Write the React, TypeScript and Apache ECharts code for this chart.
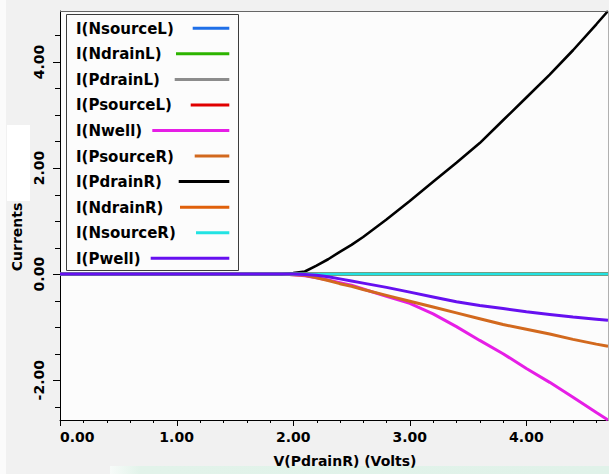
import React, { useEffect, useRef } from "react";
import * as echarts from "echarts";

// V(PdrainR) sweep points (Volts)
const voltage = [0, 0.5, 1.0, 1.5, 1.9, 2.0, 2.1, 2.2, 2.3, 2.4, 2.5, 2.6, 2.8, 3.0, 3.2, 3.4, 3.6, 3.8, 4.0, 4.2, 4.4, 4.6, 4.7];

const iNsourceL = [0, 0, 0, 0, 0, 0, 0, 0, 0, 0, 0, 0, 0, 0, 0, 0, 0, 0, 0, 0, 0, 0, 0];
const iNdrainL = [0, 0, 0, 0, 0, 0, 0, 0, 0, 0, 0, 0, 0, 0, 0, 0, 0, 0, 0, 0, 0, 0, 0];
const iPdrainL = [0, 0, 0, 0, 0, 0, 0, 0, 0, 0, 0, 0, 0, 0, 0, 0, 0, 0, 0, 0, 0, 0, 0];
const iPsourceL = [0, 0, 0, 0, 0, 0, 0, 0, 0, 0, 0, 0, 0, 0, 0, 0, 0, 0, 0, 0, 0, 0, 0];
const iNwell = [0, 0, 0, 0, 0, -0.01, -0.03, -0.07, -0.11, -0.16, -0.21, -0.28, -0.42, -0.55, -0.75, -0.99, -1.25, -1.5, -1.78, -2.04, -2.32, -2.61, -2.75];
const iPsourceR = [0, 0, 0, 0, 0, -0.01, -0.02, -0.07, -0.12, -0.18, -0.23, -0.29, -0.4, -0.51, -0.62, -0.73, -0.84, -0.95, -1.04, -1.13, -1.23, -1.32, -1.36];
const iPdrainR = [0, 0, 0, 0, 0, 0.02, 0.05, 0.16, 0.28, 0.42, 0.55, 0.7, 1.03, 1.38, 1.74, 2.1, 2.47, 2.9, 3.33, 3.76, 4.22, 4.71, 4.96];
const iNdrainR = [0, 0, 0, 0, 0, 0, 0, 0, 0, 0, 0, 0, 0, 0, 0, 0, 0, 0, 0, 0, 0, 0, 0];
const iNsourceR = [0, 0, 0, 0, 0, 0, 0, 0, 0, 0, 0, 0, 0, 0, 0, 0, 0, 0, 0, 0, 0, 0, 0];
const iPwell = [0, 0, 0, 0, 0, 0, -0.005, -0.02, -0.05, -0.09, -0.13, -0.17, -0.25, -0.34, -0.43, -0.52, -0.59, -0.65, -0.71, -0.76, -0.81, -0.85, -0.87];

const seriesNames = ["I(NsourceL)", "I(NdrainL)", "I(PdrainL)", "I(PsourceL)", "I(Nwell)", "I(PsourceR)", "I(PdrainR)", "I(NdrainR)", "I(NsourceR)", "I(Pwell)"];
const seriesValues = [iNsourceL, iNdrainL, iPdrainL, iPsourceL, iNwell, iPsourceR, iPdrainR, iNdrainR, iNsourceR, iPwell];
const seriesColors = ["#1f6fe8", "#2db400", "#8c8c8c", "#e00000", "#e61ee6", "#d2691e", "#000000", "#e0600a", "#22e3e3", "#6610f0"];

const xMin = 0;
const xMax = 4.7;
const yMin = -2.75;
const yMax = 4.96;

// tick positions (axis values)
const xMajorTicks = [0, 1, 2, 3, 4];
const xMinorTicks = [0.2, 0.4, 0.6, 0.8, 1.2, 1.4, 1.6, 1.8, 2.2, 2.4, 2.6, 2.8, 3.2, 3.4, 3.6, 3.8, 4.2, 4.4, 4.6];
const yMajorTicks = [-2, 0, 2, 4];
const yMinorTicks = [-2.5, -1.5, -1, -0.5, 0.5, 1, 1.5, 2.5, 3, 3.5, 4.5];

const FONT = "DejaVu Sans";

// layout (style only)
const GRID = { left: 60, right: 1, top: 11, bottom: 54 };
const W = 609;
const H = 474;

// legend layout (style only)
const legendTextX = 76;
const legendLineEnd = 229.3;
const legendLineStarts = [192.7, 176, 174.7, 190.7, 152.3, 194.7, 178.7, 180, 196, 150.7];
const legendY0 = 28.3;
const legendStep = 25.55;

export default function App() {
  const ref = useRef<HTMLDivElement>(null);

  useEffect(() => {
    document.body.style.margin = "0";
    if (!ref.current) return;
    const chart = echarts.init(ref.current, undefined, { renderer: "svg" });

    const series: any[] = seriesNames.map((name, i) => ({
      name,
      type: "line",
      data: voltage.map((v, k) => [v, seriesValues[i][k]]),
      showSymbol: false,
      symbol: "none",
      lineStyle: { color: seriesColors[i], width: name === "I(PdrainR)" ? 2.6 : 3 },
      itemStyle: { color: seriesColors[i] },
      silent: true,
      z: 2,
    }));

    const legendEls: any[] = [
      {
        type: "rect",
        shape: { x: 66.5, y: 14.5, width: 172, height: 256 },
        style: { fill: "#fcfcfc", stroke: "#3c3c3c", lineWidth: 1 },
        z: 10,
      },
    ];
    seriesNames.forEach((name, i) => {
      const y = legendY0 + i * legendStep;
      legendEls.push({
        type: "text",
        x: legendTextX,
        y: y + 0.5,
        style: {
          text: name,
          fill: "#000",
          font: `bold 15px "${FONT}"`,
          textAlign: "left",
          textVerticalAlign: "middle",
        },
        z: 11,
      });
      legendEls.push({
        type: "line",
        shape: { x1: legendLineStarts[i], y1: y, x2: legendLineEnd, y2: y },
        style: { stroke: seriesColors[i], lineWidth: 3 },
        z: 11,
      });
    });

    const baseGraphic: any[] = [
      { type: "rect", shape: { x: 0, y: 0, width: 6, height: 474 }, style: { fill: "#fbfbfb" }, z: 0 },
      { type: "rect", shape: { x: 7, y: 125, width: 23, height: 76 }, style: { fill: "#ffffff" }, z: 0 },
      { type: "rect", shape: { x: 60, y: 11, width: 548, height: 1 }, style: { fill: "#666666" }, z: 5 },
      { type: "rect", shape: { x: 608, y: 11, width: 1, height: 409 }, style: { fill: "#b0b0b0" }, z: 5 },
      {
        type: "text",
        x: 345,
        y: 461,
        style: {
          text: "V(PdrainR) (Volts)",
          fill: "#000",
          font: `bold 14px "${FONT}"`,
          textAlign: "center",
          textVerticalAlign: "middle",
        },
        z: 5,
      },
      {
        type: "text",
        x: 17,
        y: 237,
        rotation: Math.PI / 2,
        style: {
          text: "Currents",
          fill: "#000",
          font: `bold 14px "${FONT}"`,
          textAlign: "center",
          textVerticalAlign: "middle",
        },
        z: 5,
      },
      {
        type: "rect",
        shape: { x: 110, y: 466, width: 499, height: 8 },
        style: {
          fill: new echarts.graphic.LinearGradient(0, 0, 1, 0, [
            { offset: 0, color: "#f7fbf9" },
            { offset: 0.06, color: "#e2f3ea" },
            { offset: 1, color: "#e0f2e9" },
          ]),
        },
        z: 1,
      },
      ...legendEls,
    ];

    const option: any = {
      animation: false,
      backgroundColor: "#f1f1f1",
      grid: {
        ...GRID,
        show: true,
        backgroundColor: "#fcfcfc",
        borderWidth: 0,
      },
      xAxis: {
        type: "value",
        min: xMin,
        max: xMax,
        splitNumber: 5,
        position: "bottom",
        axisLine: { show: true, onZero: false, lineStyle: { color: "#000", width: 1 } },
        axisTick: { show: false },
        splitLine: { show: false },
        axisLabel: {
          show: true,
          margin: 10,
          color: "#000",
          fontFamily: FONT,
          fontWeight: "bold",
          fontSize: 14,
          showMinLabel: true,
          showMaxLabel: false,
          alignMinLabel: "left",
          formatter: (v: number) => v.toFixed(2),
        },
      },
      yAxis: {
        type: "value",
        min: yMin,
        max: yMax,
        splitNumber: 4,
        position: "left",
        axisLine: { show: true, onZero: false, lineStyle: { color: "#000", width: 1 } },
        axisTick: { show: false },
        splitLine: { show: false },
        axisLabel: {
          show: true,
          rotate: 90,
          margin: 14,
          color: "#000",
          fontFamily: FONT,
          fontWeight: "bold",
          fontSize: 14,
          showMinLabel: false,
          showMaxLabel: false,
          formatter: (v: number) => v.toFixed(2),
        },
      },
      series,
      graphic: baseGraphic,
    };

    chart.setOption(option);

    // pixel position of a data point, through the series' coordinate system
    const plotW = W - GRID.left - GRID.right;
    const plotH = H - GRID.top - GRID.bottom;
    const toPx = (x: number, y: number): number[] => {
      let p: any = null;
      try {
        p = chart.convertToPixel({ seriesIndex: 0 } as any, [x, y]);
      } catch (e) {
        p = null;
      }
      if (!p || !Number.isFinite(p[0]) || !Number.isFinite(p[1])) {
        p = [
          GRID.left + ((x - xMin) / (xMax - xMin)) * plotW,
          GRID.top + ((yMax - y) / (yMax - yMin)) * plotH,
        ];
      }
      return p;
    };

    const tickEls: any[] = [];
    const addXTick = (v: number, len: number) => {
      const p = toPx(v, yMin);
      tickEls.push({
        type: "rect",
        silent: true,
        shape: { x: Math.round(p[0]), y: Math.round(p[1]), width: 1, height: len },
        style: { fill: "#000000" },
        z: 6,
      });
    };
    const addYTick = (v: number, len: number) => {
      const p = toPx(xMin, v);
      tickEls.push({
        type: "rect",
        silent: true,
        shape: { x: Math.round(p[0]) - len, y: Math.round(p[1]), width: len, height: 1 },
        style: { fill: "#000000" },
        z: 6,
      });
    };
    xMajorTicks.forEach((v) => addXTick(v, 6));
    xMinorTicks.forEach((v) => addXTick(v, 3));
    yMajorTicks.forEach((v) => addYTick(v, 7));
    yMinorTicks.forEach((v) => addYTick(v, 5));

    chart.setOption({ graphic: [...baseGraphic, ...tickEls] });

    return () => {
      chart.dispose();
    };
  }, []);

  return <div ref={ref} style={{ width: W, height: H }} />;
}
